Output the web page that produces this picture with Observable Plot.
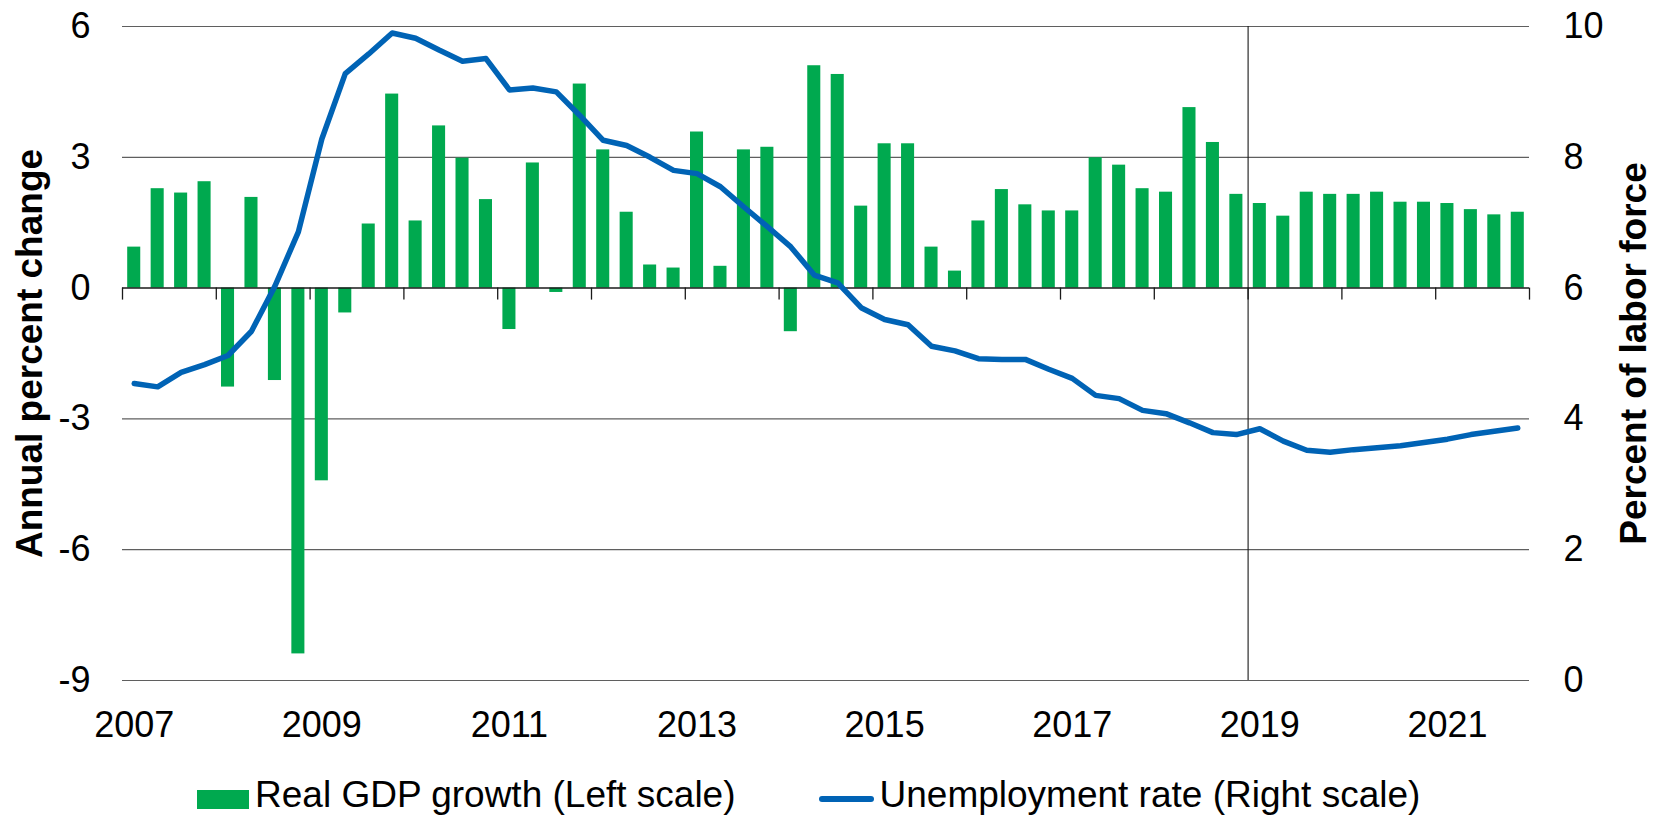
<!DOCTYPE html>
<html>
<head>
<meta charset="utf-8">
<script src="https://cdn.jsdelivr.net/npm/d3@7"></script>
<script src="https://cdn.jsdelivr.net/npm/@observablehq/plot@0.6"></script>
<style>
  html, body { margin: 0; padding: 0; background: #fff; overflow: hidden; }
  body { font-family: "Liberation Sans", Arial, sans-serif; color: #000; }
  #chart svg { display: block; }
  #legend { display: flex; align-items: flex-start; height: 42px; font-size: 37px; line-height: 42px; padding-left: 197px; white-space: nowrap; }
  #legend .sw-bar { width: 52px; height: 19px; margin-top: 16px; margin-right: 6px; }
  #legend .sw-line { width: 55px; height: 6px; border-radius: 3px; margin-top: 22px; margin-left: 83px; margin-right: 6px; }
</style>
</head>
<body>
<div id="chart"></div>
<div id="legend"></div>
<script>
// ---- data ----
const startYear = 2007;                 // first quarter: 2007 Q1, quarterly through 2021 Q4
const gdpGrowth = [
  0.94, 2.28, 2.18, 2.44,   // 2007
  -2.27, 2.08, -2.12, -8.39, // 2008
  -4.42, -0.57, 1.47, 4.45,  // 2009
  1.54, 3.72, 2.98, 2.03,    // 2010
  -0.95, 2.87, -0.10, 4.68,  // 2011
  3.17, 1.74, 0.53, 0.46,    // 2012
  3.58, 0.50, 3.17, 3.23,    // 2013
  -1.00, 5.10, 4.90, 1.88,   // 2014
  3.31, 3.31, 0.94, 0.39,    // 2015
  1.54, 2.26, 1.91, 1.77,    // 2016
  1.77, 2.99, 2.82, 2.28,    // 2017
  2.20, 4.14, 3.34, 2.15,    // 2018
  1.94, 1.65, 2.20, 2.15,    // 2019
  2.15, 2.20, 1.97, 1.97,    // 2020
  1.94, 1.80, 1.68, 1.74     // 2021
];
const unemployment = [
  4.54, 4.49, 4.71, 4.83,    // 2007
  4.97, 5.34, 6.03, 6.86,    // 2008
  8.28, 9.28, 9.58, 9.90,    // 2009
  9.82, 9.64, 9.47, 9.51,    // 2010
  9.03, 9.06, 9.00, 8.64,    // 2011
  8.26, 8.18, 8.00, 7.80,    // 2012
  7.75, 7.55, 7.24, 6.94,    // 2013
  6.63, 6.20, 6.08, 5.70,    // 2014
  5.52, 5.44, 5.11, 5.04,    // 2015
  4.92, 4.91, 4.91, 4.76,    // 2016
  4.62, 4.36, 4.31, 4.13,    // 2017
  4.08, 3.94, 3.79, 3.76,    // 2018
  3.85, 3.66, 3.52, 3.49,    // 2019
  3.53, 3.56, 3.59, 3.64,    // 2020
  3.69, 3.76, 3.81, 3.86     // 2021
];
const leftTicks = [-9, -6, -3, 0, 3, 6];
const rightTicks = [0, 2, 4, 6, 8, 10];
const xLabelYears = [2007, 2009, 2011, 2013, 2015, 2017, 2019, 2021];
const yearBoundaries = [2007, 2008, 2009, 2010, 2011, 2012, 2013, 2014, 2015, 2016, 2017, 2018, 2019, 2020, 2021, 2022];
const forecastStart = 2019;
const seriesNames = ["Real GDP growth (Left scale)", "Unemployment rate (Right scale)"];
const axisTitles = ["Annual percent change", "Percent of labor force"];
const colors = {gdp: "#00A94F", ur: "#0063B5"};

// ---- build ----
const data = gdpGrowth.map((g, i) => ({t: startYear + i / 4, gdp: g, ur: unemployment[i]}));
// right scale (0..10) mapped onto left scale (-9..6)
const toLeft = d3.scaleLinear()
  .domain([d3.min(rightTicks), d3.max(rightTicks)])
  .range([d3.min(leftTicks), d3.max(leftTicks)]);

const chart = Plot.plot({
  width: 1659,
  height: 774,
  marginLeft: 122,
  marginRight: 130,
  marginTop: 26,
  marginBottom: 94,
  style: {fontFamily: "'Liberation Sans', Arial, sans-serif", fontSize: "36px", color: "#000", background: "#fff", overflow: "visible"},
  x: {domain: [d3.min(yearBoundaries), d3.max(yearBoundaries)]},
  y: {domain: [d3.min(leftTicks), d3.max(leftTicks)]},
  marks: [
    Plot.ruleY(leftTicks.filter(d => d !== 0), {stroke: "#5f5f5f", strokeWidth: 1.2}),
    Plot.rectY(data, {x1: "t", x2: d => d.t + 0.25, y: "gdp", fill: colors.gdp, insetLeft: 5.2, insetRight: 5.2}),
    Plot.ruleY([0], {stroke: "#1a1a1a", strokeWidth: 1.5}),
    Plot.ruleX(yearBoundaries, {x: d => d, y1: 0, y2: 0, insetTop: 0, insetBottom: -12, stroke: "#1a1a1a", strokeWidth: 1.3}),
    Plot.ruleX([forecastStart], {stroke: "#1a1a1a", strokeWidth: 1.1}),
    Plot.line(data, {x: d => d.t + 0.125, y: d => toLeft(d.ur), stroke: colors.ur, strokeWidth: 5.5, strokeLinejoin: "round", strokeLinecap: "round"}),
    Plot.axisX({anchor: "bottom", ticks: xLabelYears.map(y => y + 0.125), tickFormat: d => String(Math.floor(d)), tickSize: 0, tickPadding: 31, label: null}),
    Plot.axisY({anchor: "left", ticks: leftTicks, tickFormat: d => String(d), tickSize: 0, tickPadding: 32, label: null}),
    Plot.axisY({anchor: "right", ticks: rightTicks.map(toLeft), tickFormat: d => String(Math.round(toLeft.invert(d))), tickSize: 0, tickPadding: 34, label: null}),
    Plot.text([axisTitles[0]], {frameAnchor: "left", rotate: -90, dx: -92, text: d => d, fontWeight: "bold", fontSize: 37, textAnchor: "middle", lineAnchor: "middle"}),
    Plot.text([axisTitles[1]], {frameAnchor: "right", rotate: -90, dx: 105, text: d => d, fontWeight: "bold", fontSize: 37, textAnchor: "middle", lineAnchor: "middle"})
  ]
});
document.getElementById("chart").appendChild(chart);

const legend = document.getElementById("legend");
const sw1 = document.createElement("span"); sw1.className = "sw-bar"; sw1.style.background = colors.gdp;
const l1 = document.createElement("span"); l1.textContent = seriesNames[0];
const sw2 = document.createElement("span"); sw2.className = "sw-line"; sw2.style.background = colors.ur;
const l2 = document.createElement("span"); l2.textContent = seriesNames[1];
legend.append(sw1, l1, sw2, l2);
</script>
</body>
</html>
